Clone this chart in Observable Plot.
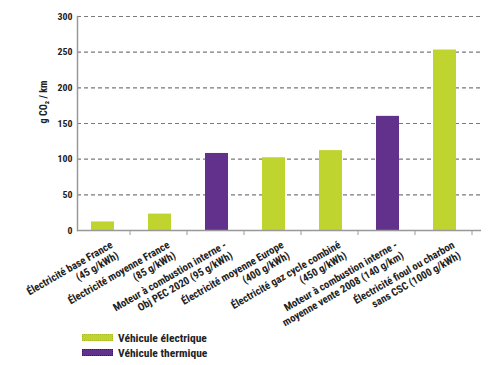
<!DOCTYPE html>
<html><head><meta charset="utf-8">
<script src="https://cdn.jsdelivr.net/npm/d3@7"></script>
<script src="https://cdn.jsdelivr.net/npm/@observablehq/plot@0.6"></script>
<style>
body{margin:0;background:#fff;}
#wrap{position:relative;width:500px;height:365px;}
#legend{position:absolute;left:82px;top:330px;font-weight:bold;color:#222;}
.li{display:flex;align-items:center;height:15px;}
.sw{width:31px;height:7px;margin-right:5px;box-sizing:border-box;}
</style></head>
<body><div id="wrap"><div id="chart"></div>
<div id="legend"></div></div>
<script>
const categories = [
  "Électricité base France\n(45 g/kWh)",
  "Électricité moyenne France\n(85 g/kWh)",
  "Moteur à combustion interne -\nObj PEC 2020 (95 g/kWh)",
  "Électricité moyenne Europe\n(400 g/kWh)",
  "Électricité gaz cycle combiné\n(450 g/kWh)",
  "Moteur à combustion interne -\nmoyenne vente 2008 (140 g/km)",
  "Électricité fioul ou charbon\nsans CSC (1000 g/kWh)"
];
const values = [12, 23, 108, 102, 112, 160, 253];
const types = ["Véhicule électrique","Véhicule électrique","Véhicule thermique","Véhicule électrique","Véhicule électrique","Véhicule thermique","Véhicule électrique"];
const yTicks = [0, 50, 100, 150, 200, 250, 300];
const seriesNames = ["Véhicule électrique", "Véhicule thermique"];
const seriesColors = ["#c0d42f", "#62318b"];
const yLabel = "g CO₂ / km";

const font = '"Liberation Sans Narrow","Roboto Condensed","Arial Narrow","DejaVu Sans Condensed",sans-serif';

// measure real SVG text length to size fonts like the reference
function measure(str, size) {
  const ns = "http://www.w3.org/2000/svg";
  const s = document.createElementNS(ns, "svg");
  s.setAttribute("width", 600); s.setAttribute("height", 50);
  const t = document.createElementNS(ns, "text");
  t.setAttribute("font-family", font); t.setAttribute("font-weight", "bold");
  t.setAttribute("font-size", size); t.setAttribute("y", 30);
  t.textContent = str; s.appendChild(t); document.body.appendChild(s);
  const l = t.getComputedTextLength(); s.remove(); return l;
}
const clamp = (v, a, b) => Math.max(a, Math.min(b, v));
const fs = clamp(11 * 97 / measure("Électricité base France", 11), 9, 13);
const tfs = clamp(11 * 15 / measure("300", 11), 9, 13);
const lfs = clamp(11 * 43 / measure(yLabel, 11), 9, 13);
const gfs = clamp(11 * 89 / measure("Véhicule électrique", 11), 9, 14);

const data = categories.map((c, i) => ({cat: c, value: values[i], type: types[i]}));

const chart = Plot.plot({
  width: 500, height: 330,
  marginLeft: 77, marginRight: 19, marginTop: 16, marginBottom: 100,
  style: {fontFamily: font, fontSize: "11px", fontWeight: "bold", color: "#222", background: "transparent"},
  x: {domain: categories, range: [71, 475], paddingInner: 0.6, paddingOuter: 0.3, axis: null},
  y: {domain: [0, 300], axis: null},
  color: {domain: seriesNames, range: seriesColors},
  marks: [
    Plot.ruleY(yTicks.filter(d => d > 0), {stroke: "#7a7a7a", strokeDasharray: "4,3", strokeWidth: 1.2}),
    Plot.barY(data, {x: "cat", y: "value", fill: "type"}),
    Plot.ruleY([0], {stroke: "#999", strokeWidth: 1.5}),
    Plot.frame({anchor: "left", stroke: "#999", strokeWidth: 1.5}),
    Plot.ruleX(categories, {x: d => d, dx: 27, y1: 0, y2: -7, stroke: "#999"}),
    Plot.axisY(yTicks, {tickSize: 0, tickPadding: 5, label: null, fontSize: tfs}),
    Plot.text([yLabel], {frameAnchor: "left", dx: -34, text: d => d, rotate: -90, fontSize: lfs}),
    Plot.text(data, {x: "cat", y: 0, text: "cat", rotate: -30, textAnchor: "end", lineAnchor: "top", dy: 9, dx: 6, fontSize: fs, lineHeight: 1.15})
  ]
});
document.getElementById("chart").appendChild(chart);

const lg = document.getElementById("legend");
lg.style.fontFamily = font;
lg.style.fontSize = gfs + "px";
seriesNames.forEach((n, i) => {
  const row = document.createElement("div"); row.className = "li";
  const sw = document.createElement("div"); sw.className = "sw";
  sw.style.background = seriesColors[i];
  sw.style.border = "1px dotted " + (i ? "#3a1a60" : "#a8bb20");
  const t = document.createElement("span"); t.textContent = n;
  row.appendChild(sw); row.appendChild(t); lg.appendChild(row);
});
</script></body></html>
